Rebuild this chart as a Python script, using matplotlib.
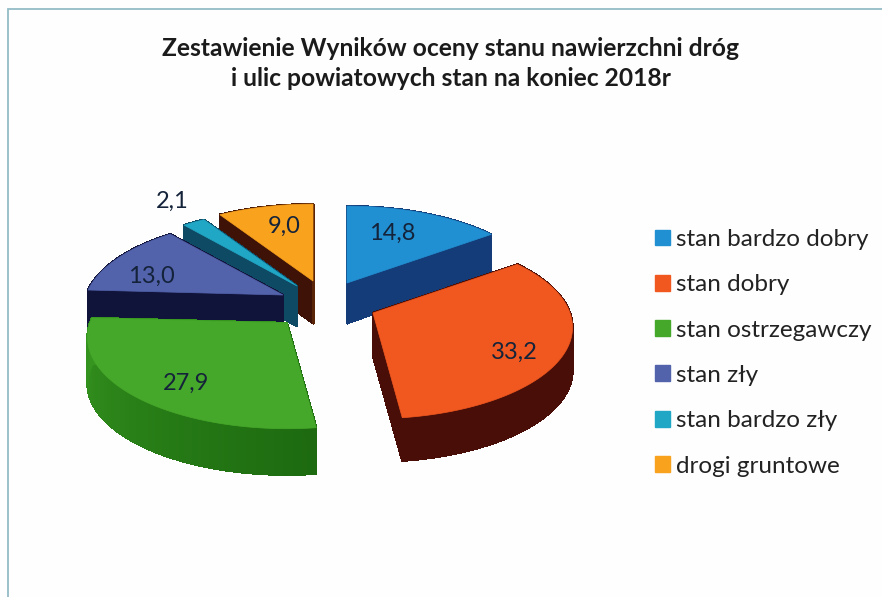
import numpy as np
import matplotlib
matplotlib.use("Agg")
import matplotlib.pyplot as plt
from matplotlib.patches import Polygon, Patch
from matplotlib.collections import PolyCollection
from matplotlib.colors import to_rgb

plt.rcParams['font.family'] = ['Lato', 'DejaVu Sans']

# --- data ---
categories = ["stan bardzo dobry", "stan dobry", "stan ostrzegawczy",
              "stan zły", "stan bardzo zły", "drogi gruntowe"]
values = [14.8, 33.2, 27.9, 13.0, 2.1, 9.0]
value_labels = ["14,8", "33,2", "27,9", "13,0", "2,1", "9,0"]
title_lines = "Zestawienie Wyników oceny stanu nawierzchni dróg\ni ulic powiatowych stan na koniec 2018r"

# --- style ---
top_colors = ["#2190d2", "#f1581f", "#46a82a", "#5262ab", "#21a7c6", "#f9a21d"]
wall_start = ["#143c78", "#4a0e08", "#35951f", "#10133a", "#0e4a63", "#5a2409"]
wall_end = ["#143c78", "#4a0e08", "#1d6a10", "#10133a", "#0e4a63", "#3e1206"]
explode = [(347, 283), (373, 313), (287, 323), (283, 295), (297, 286), (313, 281)]
depths = [40, 43, 46, 40, 40, 42]
draw_order = [0, 5, 4, 3, 1, 2]
label_xy = [(392, 233), (514, 352), (186, 383), (151, 276), (172, 201), (284, 226)]
RX, RY, PERSP = 197, 89, 0.158


def outline(start, end):
    th = np.radians(np.linspace(start, end, max(int(end - start) * 2, 4)))
    w = 1 / (1 + PERSP * np.cos(th))
    return RX * np.sin(th) * w, -RY * np.cos(th) * w


fig = plt.figure(figsize=(8.82, 5.97), dpi=100, facecolor="#fefefe")
ax = fig.add_axes([0, 0, 1, 1])
ax.set_xlim(0, 882)
ax.set_ylim(597, 0)
ax.axis("off")

ax.plot([8, 8, 882], [597, 9, 9], color="#94bcc7", lw=1.3, solid_joinstyle="miter")

edges = np.concatenate([[0], np.cumsum(values)]) / sum(values) * 360
for i in draw_order:
    cx, cy = explode[i]
    x, y = outline(edges[i], edges[i + 1])
    px = np.concatenate([[0], x]) + cx
    py = np.concatenate([[0], y]) + cy
    d = depths[i]
    quads, cols = [], []
    c0, c1 = np.array(to_rgb(wall_start[i])), np.array(to_rgb(wall_end[i]))
    n = len(x)
    for k in range(n - 1):
        quads.append([(x[k] + cx, y[k] + cy), (x[k + 1] + cx, y[k + 1] + cy),
                      (x[k + 1] + cx, y[k + 1] + cy + d), (x[k] + cx, y[k] + cy + d)])
        f = 1 - k / (n - 1)
        cols.append(c0 + (c1 - c0) * f)
    for a, b in [(0, 1), (0, n)]:
        quads.append([(px[a], py[a]), (px[b], py[b]), (px[b], py[b] + d), (px[a], py[a] + d)])
        cols.append(c1 if b != n else c0)
    ax.add_collection(PolyCollection(quads, facecolors=cols, edgecolors=cols,
                                     linewidths=1.0, antialiaseds=False))
    ax.add_patch(Polygon(np.column_stack([px, py]), closed=True,
                         facecolor=top_colors[i], edgecolor=top_colors[i], lw=0.5))

for (lx, ly), t in zip(label_xy, value_labels):
    ax.text(lx, ly, t, ha="center", va="center", fontsize=17, color="#14233a")

ax.text(451, 63.5, title_lines, ha="center", va="center", fontsize=17.7, fontweight="bold",
        color="#1b1b1b", linespacing=1.42)

handles = [Patch(facecolor=c, edgecolor=c) for c in top_colors]
ax.legend(handles, categories, loc="upper left", bbox_to_anchor=(655, 229),
          bbox_transform=ax.transData, frameon=False, borderpad=0, borderaxespad=0,
          fontsize=17.5, labelcolor="#222222", handlelength=0.62, handleheight=0.62,
          handletextpad=0.25, labelspacing=1.0)

fig.savefig("out.png", dpi=100, facecolor=fig.get_facecolor())
